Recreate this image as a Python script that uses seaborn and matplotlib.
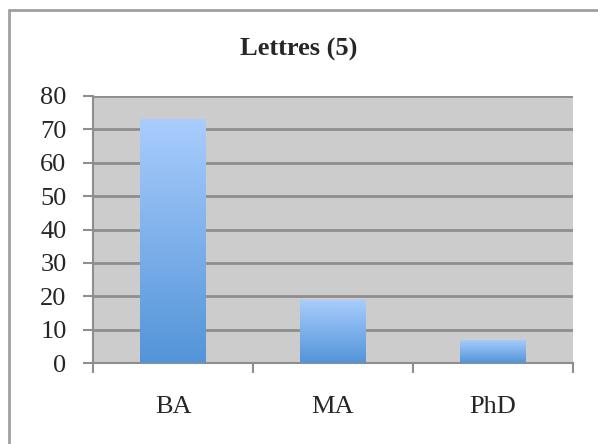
"""Bar chart: Lettres (5) by degree level."""

import numpy as np
import pandas as pd
import matplotlib
matplotlib.use("Agg")
from matplotlib import pyplot as plt
from matplotlib.lines import Line2D
from matplotlib.colors import LinearSegmentedColormap
import seaborn as sns

categories = ["BA", "MA", "PhD"]
counts = [73, 19, 7]
title = "Lettres (5)"
y_ticks = [0, 10, 20, 30, 40, 50, 60, 70, 80]

sns.set_style("white")
plt.rcParams["font.family"] = ["Liberation Serif", "DejaVu Serif"]

fig = plt.figure(figsize=(5.98, 4.44), dpi=100)
ax = fig.add_axes([0.1555, 0.1824, 0.8025, 0.6014])

df = pd.DataFrame({"degree": categories, "count": counts})
sns.barplot(data=df, x="degree", y="count", color="#7fb2ee", width=0.41,
            saturation=1, linewidth=0, ax=ax, zorder=3)

# vertical gradient fill clipped to each bar
grad = LinearSegmentedColormap.from_list("bar", ["#5394d8", "#a9cdfd"])
gradient = np.linspace(0, 1, 256).reshape(-1, 1)
for patch in ax.patches:
    x0, y0 = patch.get_x(), patch.get_y()
    w, h = patch.get_width(), patch.get_height()
    im = ax.imshow(gradient, cmap=grad, origin="lower", aspect="auto",
                   extent=(x0, x0 + w, y0, y0 + h), zorder=4)
    im.set_clip_path(patch)

ax.set_xlim(-0.5, 2.5)
ax.set_ylim(0, 80)
ax.set_yticks(y_ticks)
ax.set_facecolor("#cccccc")
ax.yaxis.grid(True, color="#8e8e8e", linewidth=2)
ax.set_axisbelow(True)
ax.set_xlabel("")
ax.set_ylabel("")

for side in ["top", "right"]:
    ax.spines[side].set_visible(False)
for side in ["left", "bottom"]:
    ax.spines[side].set_color("#8e8e8e")
    ax.spines[side].set_linewidth(1.5)

ax.tick_params(axis="y", which="major", length=7, width=1.5, color="#8e8e8e",
               labelsize=19, left=True, pad=12)
ax.set_xticks([0, 1, 2])
ax.set_xticklabels(categories)
ax.tick_params(axis="x", which="major", length=0, labelsize=19, pad=24)
ax.set_xticks([-0.5, 0.5, 1.5, 2.5], minor=True)
ax.tick_params(axis="x", which="minor", length=7, width=1.5, color="#8e8e8e",
               bottom=True)

fig.text(0.5, 0.888, title, ha="center", va="center", fontsize=19,
         fontweight="bold")

# chart frame (only top and left edges visible)
fig.add_artist(Line2D([9 / 598, 9 / 598], [0, 1 - 10 / 444],
                      transform=fig.transFigure, color="#a0a0a0", linewidth=2))
fig.add_artist(Line2D([9 / 598, 1], [1 - 10 / 444, 1 - 10 / 444],
                      transform=fig.transFigure, color="#a0a0a0", linewidth=2))

fig.savefig("out.png", dpi=100)
